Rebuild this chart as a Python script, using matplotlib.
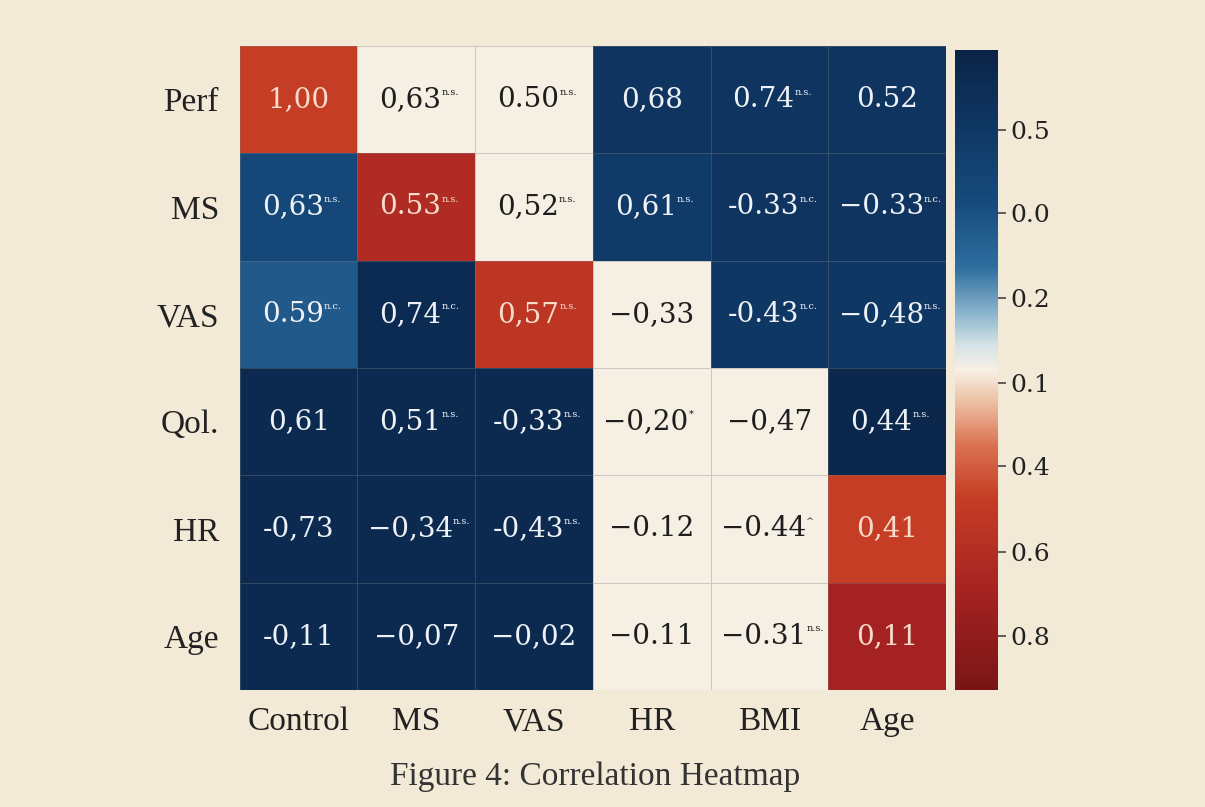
import matplotlib
matplotlib.use("Agg")
import matplotlib.pyplot as plt
import numpy as np
from matplotlib.colors import LinearSegmentedColormap, Normalize
from matplotlib.cm import ScalarMappable

row_labels = ["Perf", "MS", "VAS", "Qol.", "HR", "Age"]
col_labels = ["Control", "MS", "VAS", "HR", "BMI", "Age"]

cell_text = [
    ["1,00", "0,63", "0.50", "0,68", "0.74", "0.52"],
    ["0,63", "0.53", "0,52", "0,61", "-0.33", "\u22120.33"],
    ["0.59", "0,74", "0,57", "\u22120,33", "-0.43", "\u22120,48"],
    ["0,61", "0,51", "-0,33", "\u22120,20", "\u22120,47", "0,44"],
    ["-0,73", "\u22120,34", "-0,43", "\u22120.12", "\u22120.44", "0,41"],
    ["-0,11", "\u22120,07", "\u22120,02", "\u22120.11", "\u22120.31", "0,11"],
]
cell_sup = [
    ["", "n.s.", "n.s.", "", "n.s.", ""],
    ["n.s.", "n.s.", "n.s.", "n.s.", "n.c.", "n.c."],
    ["n.c.", "n.c.", "n.s.", "", "n.c.", "n.s."],
    ["", "n.s.", "n.s.", "*", "", "n.s."],
    ["", "n.s.", "n.s.", "", "^", ""],
    ["", "", "", "", "n.s.", ""],
]
# colour position of each cell on the colour bar scale (0 = bottom, 1 = top)
cell_color = [
    [0.30, 0.50, 0.50, 0.90, 0.90, 0.90],
    [0.78, 0.20, 0.50, 0.86, 0.90, 0.90],
    [0.72, 0.95, 0.26, 0.50, 0.88, 0.88],
    [0.96, 0.96, 0.96, 0.50, 0.50, 0.98],
    [0.96, 0.96, 0.96, 0.50, 0.50, 0.30],
    [0.96, 0.96, 0.96, 0.50, 0.50, 0.15],
]
cbar_tick_pos = [0.875, 0.745, 0.6125, 0.48, 0.35, 0.216, 0.084]
cbar_tick_labels = ["0.5", "0.0", "0.2", "0.1", "0.4", "0.6", "0.8"]

cmap = LinearSegmentedColormap.from_list("rb", [
    (0.00, "#7a1515"), (0.15, "#a52222"), (0.30, "#c63d25"),
    (0.38, "#d9704f"), (0.45, "#ecbfa2"), (0.50, "#f7f0e4"),
    (0.54, "#d3e3e6"), (0.59, "#8ab4cc"), (0.66, "#2f6fa0"),
    (0.76, "#164b7d"), (0.88, "#0f3764"), (1.00, "#0a2446"),
])
norm = Normalize(0, 1)

bg = "#f3e9d7"
fig = plt.figure(figsize=(12.05, 8.07), dpi=100, facecolor=bg)
ax = fig.add_axes([0.199, 0.145, 0.586, 0.798])
ax.set_facecolor(bg)
data = np.array(cell_color)
ax.pcolormesh(data, cmap=cmap, norm=norm, edgecolors=(0.5, 0.5, 0.5, 0.35), linewidth=0.7)
ax.set_xlim(0, len(col_labels))
ax.set_ylim(len(row_labels), 0)
for s in ax.spines.values():
    s.set_visible(False)
ax.set_xticks(np.arange(len(col_labels)) + 0.5)
ax.set_xticklabels(col_labels, fontsize=24, family="Liberation Serif", color="#222222")
ax.set_yticks(np.arange(len(row_labels)) + 0.5)
ax.set_yticklabels(row_labels, fontsize=24, family="Liberation Serif", color="#222222")
ax.tick_params(axis="y", length=0, pad=15)
ax.tick_params(axis="x", length=0, pad=12)

for i in range(len(row_labels)):
    for j in range(len(col_labels)):
        v = cell_color[i][j]
        if 0.42 <= v <= 0.58:
            tc = "#1e1e1e"
        elif v < 0.42:
            tc = "#f8dccb"
        else:
            tc = "#eef2f6"
        sup = cell_sup[i][j]
        dx = -0.05 if sup else 0.0
        t = ax.text(j + 0.5 + dx, i + 0.5, cell_text[i][j], ha="center", va="center",
                    fontsize=20, family="DejaVu Serif", color=tc)
        if sup:
            ax.annotate(sup, xy=(1, 0.95), xycoords=t, ha="left", va="top",
                        fontsize=7, family="DejaVu Serif", color=tc)

cax = fig.add_axes([0.7925, 0.145, 0.036, 0.793])
sm = ScalarMappable(norm=norm, cmap=cmap)
cb = fig.colorbar(sm, cax=cax)
cb.outline.set_visible(False)
cb.set_ticks(cbar_tick_pos)
cb.set_ticklabels(cbar_tick_labels)
cax.tick_params(labelsize=18, length=6, width=1.2, color="#444444", labelcolor="#222222", pad=3)
for lab in cax.get_yticklabels():
    lab.set_family("DejaVu Serif")

fig.text(0.494, 0.038, "Figure 4: Correlation Heatmap", ha="center", va="center",
         fontsize=24, family="Liberation Serif", color="#333333")

fig.savefig("out.png", dpi=100, facecolor=bg)
